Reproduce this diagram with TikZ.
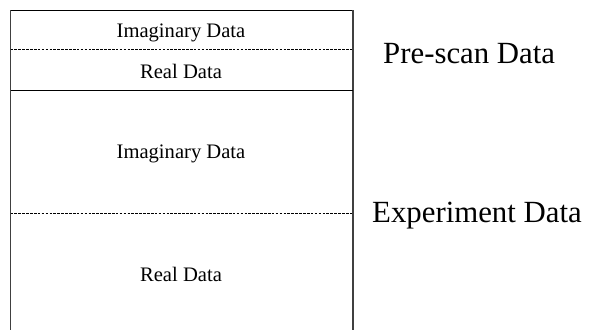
\documentclass[tikz,border=0pt]{standalone}
\usepackage{fontspec}
\setmainfont{Liberation Serif}
\begin{document}
\begin{tikzpicture}[x=1bp,y=-1bp,
  frame/.style={draw=black!75,line width=1.3bp},
  rule/.style={draw=black,line width=0.9bp},
  dashrule/.style={draw=black,line width=0.9bp,dash pattern=on 2.6bp off 1.3bp},
  cell/.style={inner sep=0pt,anchor=base,font=\fontsize{20.6bp}{24bp}\selectfont},
  tag/.style={inner sep=0pt,anchor=base west,font=\fontsize{30.8bp}{36bp}\selectfont}]
  \useasboundingbox (0,0) rectangle (591,331);
  % record layout: open at the bottom
  \coordinate (tl) at (10.5,10);
  \coordinate (tr) at (353,10);
  \coordinate (bl) at (10.5,330);
  \coordinate (br) at (353,330);
  \draw[rule] (tl) -- (tr);
  \draw[frame] (tl) -- (bl);
  \draw[frame] (tr) -- (br);
  % section boundaries
  \draw[dashrule] (10.5,49.3) -- (353,49.3);
  \draw[rule] (10.5,90) -- (353,90);
  \draw[dashrule] (10.5,213) -- (353,213);
  % section labels
  \node[cell] (pimag) at (181,37.3) {Imaginary Data};
  \node[cell] (preal) at (181,78.3) {Real Data};
  \node[cell] (eimag) at (181,158.3) {Imaginary Data};
  \node[cell] (ereal) at (181,281.7) {Real Data};
  % group labels
  \node[tag] (pre) at (383,63.3) {Pre-scan Data};
  \node[tag] (exp) at (372,222.7) {Experiment Data};
\end{tikzpicture}
\end{document}
